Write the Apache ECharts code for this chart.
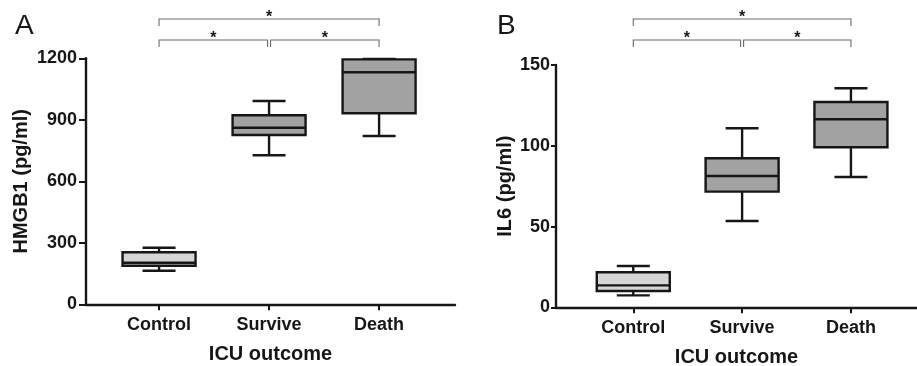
<!DOCTYPE html>
<html>
<head>
<meta charset="utf-8">
<script src="https://cdn.jsdelivr.net/npm/echarts@6/dist/echarts.min.js"></script>
<style>
html, body { margin: 0; padding: 0; background: #fff; }
#chart { width: 917px; height: 366px; }
</style>
</head>
<body>
<div id="chart"></div>
<script>
var categories = ['Control', 'Survive', 'Death'];
// min, Q1, median, Q3, max
var hmgb1Boxes = [
    [164, 188, 203, 254, 276],
    [727, 826, 861, 922, 992],
    [821, 932, 1132, 1195, 1197]
];
var il6Boxes = [
    [7.4, 10.1, 13.6, 21.7, 25.6],
    [53.4, 71.6, 81.3, 92.3, 110.8],
    [80.7, 99.1, 116.4, 127.1, 135.6]
];
var hmgb1Ticks = [0, 300, 600, 900, 1200];
var il6Ticks = [0, 50, 100, 150];
// [from, to, level] level 0 = upper bracket
var comparisons = [[0, 2, 0], [0, 1, 1], [1, 2, 1]];
var sigMarks = ['*', '*', '*'];

var font = "'Liberation Sans', Arial, sans-serif";
var ink = '#161616';
var fills = ['#d5d5d5', '#a2a2a2', '#a2a2a2'];
var bracketTop = [19, 40];

var chart = echarts.init(document.getElementById('chart'));

function boxData(boxes) {
    return boxes.map(function (b, i) { return [i].concat(b); });
}

function renderBox(params, api) {
    var x = api.value(0);
    var lo = api.coord([x, api.value(1)]);
    var q1 = api.coord([x, api.value(2)]);
    var md = api.coord([x, api.value(3)]);
    var q3 = api.coord([x, api.value(4)]);
    var hi = api.coord([x, api.value(5)]);
    var cx = lo[0];
    var bw = 73, cw = 33;
    var st = { stroke: ink, lineWidth: 2.4 };
    return {
        type: 'group',
        children: [
            { type: 'line', shape: { x1: cx, y1: hi[1], x2: cx, y2: q3[1] }, style: st },
            { type: 'line', shape: { x1: cx, y1: q1[1], x2: cx, y2: lo[1] }, style: st },
            { type: 'line', shape: { x1: cx - cw / 2, y1: hi[1], x2: cx + cw / 2, y2: hi[1] }, style: st },
            { type: 'line', shape: { x1: cx - cw / 2, y1: lo[1], x2: cx + cw / 2, y2: lo[1] }, style: st },
            { type: 'rect', shape: { x: cx - bw / 2, y: q3[1], width: bw, height: q1[1] - q3[1] },
              style: { fill: fills[x], stroke: ink, lineWidth: 2.4 } },
            { type: 'line', shape: { x1: cx - bw / 2, y1: md[1], x2: cx + bw / 2, y2: md[1] }, style: st }
        ]
    };
}

function renderBracket(params, api) {
    var level = api.value(2);
    var inset = level ? 1.5 : 0;
    var a = api.coord([api.value(0), 0])[0] + (api.value(0) === 1 ? inset : 0);
    var b = api.coord([api.value(1), 0])[0] - (api.value(1) === 1 ? inset : 0);
    var y = bracketTop[level];
    var drop = 7;
    var st = { stroke: '#6a6a6a', lineWidth: 1.1, fill: null };
    return {
        type: 'group',
        children: [
            { type: 'polyline', shape: { points: [[a, y + drop], [a, y], [b, y], [b, y + drop]] }, style: st },
            { type: 'text', style: { text: sigMarks[params.dataIndex], x: (a + b) / 2, y: y - 1,
              fill: ink, font: 'bold 16px ' + font, align: 'center', verticalAlign: 'middle' } }
        ]
    };
}

function xAxis(gridIndex, min, max) {
    return {
        type: 'value', gridIndex: gridIndex, min: min, max: max,
        name: 'ICU outcome', nameLocation: 'middle', nameGap: 40,
        nameTextStyle: { color: ink, fontFamily: font, fontWeight: 'bold', fontSize: 20 },
        axisLine: { show: true, onZero: false, lineStyle: { color: ink, width: 2.4 } },
        axisTick: { show: true, customValues: [0, 1, 2], length: 6, lineStyle: { color: ink, width: 2 } },
        axisLabel: { customValues: [0, 1, 2], margin: 12, color: ink, fontFamily: font,
            fontWeight: 'bold', fontSize: 18,
            formatter: function (v) { return categories[Math.round(v)]; } },
        splitLine: { show: false }
    };
}

function yAxis(gridIndex, ticks, name, gap, margin, tickLen) {
    return {
        type: 'value', gridIndex: gridIndex,
        min: ticks[0], max: ticks[ticks.length - 1], interval: ticks[1] - ticks[0],
        name: name, nameLocation: 'middle', nameGap: gap,
        nameTextStyle: { color: ink, fontFamily: font, fontWeight: 'bold', fontSize: 20 },
        axisLine: { show: true, onZero: false, lineStyle: { color: ink, width: 2.4 } },
        axisTick: { show: true, length: tickLen, lineStyle: { color: ink, width: 2 } },
        axisLabel: { margin: margin, color: ink, fontFamily: font, fontWeight: 'bold', fontSize: 18,
            formatter: function (v) { return String(v); } },
        splitLine: { show: false }
    };
}

var option = {
    animation: false,
    backgroundColor: '#fff',
    title: [
        { text: 'A', left: 10, top: 7, textStyle: { fontFamily: font, fontWeight: 'normal', fontSize: 28, color: ink } },
        { text: 'B', left: 492, top: 7, textStyle: { fontFamily: font, fontWeight: 'normal', fontSize: 28, color: ink } }
    ],
    grid: [
        { left: 86, top: 58.3, right: 462, bottom: 61.7, outerBoundsMode: 'none' },
        { left: 556, top: 65, right: 0, bottom: 58.7, outerBoundsMode: 'none' }
    ],
    xAxis: [xAxis(0, -0.664, 2.69), xAxis(1, -0.71, 2.607)],
    yAxis: [
        yAxis(0, hmgb1Ticks, 'HMGB1 (pg/ml)', 55, 9, 7),
        yAxis(1, il6Ticks, 'IL6 (pg/ml)', 41, 6, 5)
    ],
    series: [
        { type: 'custom', xAxisIndex: 0, yAxisIndex: 0, data: boxData(hmgb1Boxes),
          encode: { x: 0, y: [1, 2, 3, 4, 5] }, renderItem: renderBox, z: 3 },
        { type: 'custom', xAxisIndex: 1, yAxisIndex: 1, data: boxData(il6Boxes),
          encode: { x: 0, y: [1, 2, 3, 4, 5] }, renderItem: renderBox, z: 3 },
        { type: 'custom', xAxisIndex: 0, yAxisIndex: 0, data: comparisons, clip: false,
          encode: { x: [0, 1], y: 2 }, renderItem: renderBracket },
        { type: 'custom', xAxisIndex: 1, yAxisIndex: 1, data: comparisons, clip: false,
          encode: { x: [0, 1], y: 2 }, renderItem: renderBracket }
    ]
};
chart.setOption(option);
</script>
</body>
</html>
